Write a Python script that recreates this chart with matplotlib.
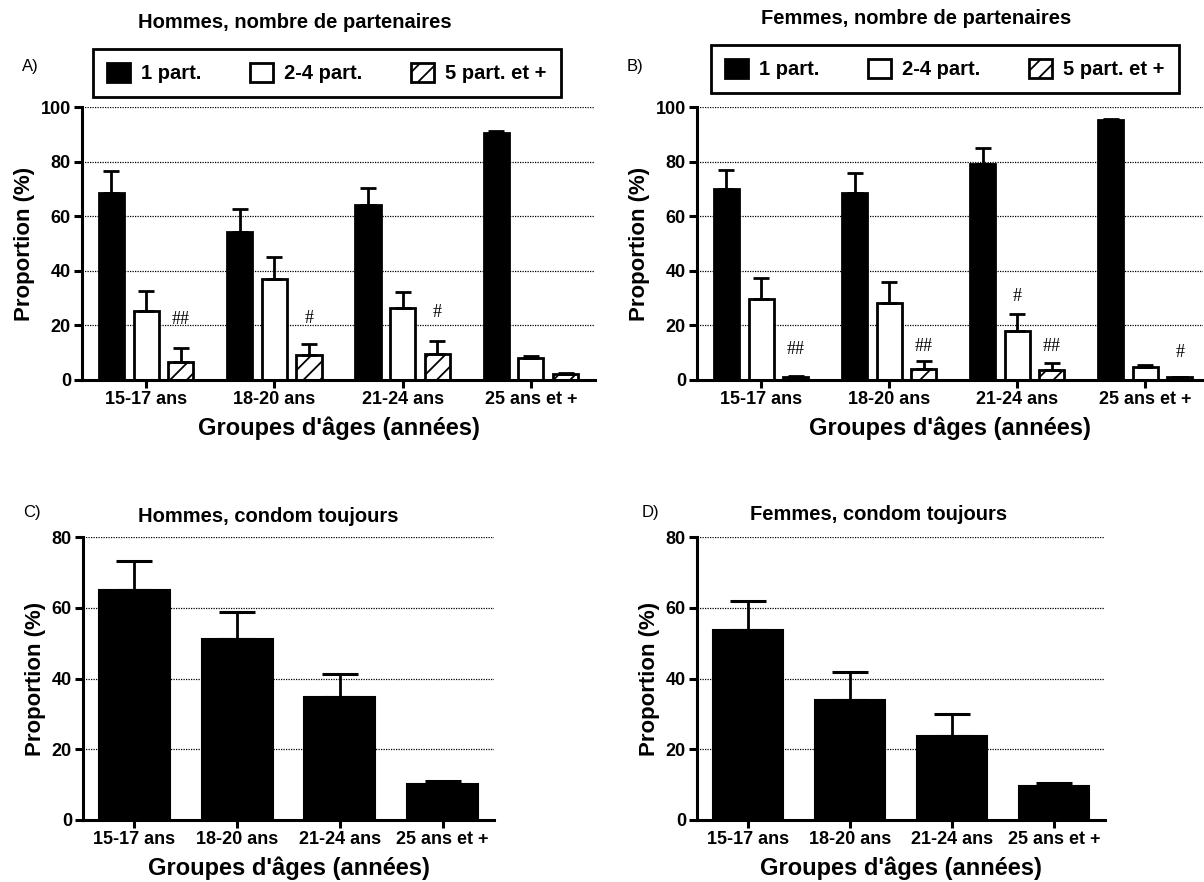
import matplotlib
matplotlib.use('Agg')
import matplotlib.pyplot as plt
import numpy as np

plt.rcParams['font.family'] = ['Liberation Sans', 'DejaVu Sans']
plt.rcParams['font.weight'] = 'bold'
plt.rcParams['hatch.linewidth'] = 1.3

# ---------------- data ----------------
groups = ['15-17 ans', '18-20 ans', '21-24 ans', '25 ans et +']
series = ['1 part.', '2-4 part.', '5 part. et +']

# Panel A : Hommes, nombre de partenaires
men_1 = [68.6, 54.3, 64.1, 90.3]
men_1_err = [7.8, 8.2, 6.3, 0.9]
men_2_4 = [25.3, 36.9, 26.5, 8.2]
men_2_4_err = [7.4, 8.0, 5.8, 0.6]
men_5 = [6.5, 9.2, 9.6, 2.1]
men_5_err = [5.3, 4.0, 4.8, 0.6]
# (series index, group index, text, y)
men_marks = [(2, 0, '##', 22.0), (2, 1, '#', 22.7), (2, 2, '#', 24.6)]

# Panel B : Femmes, nombre de partenaires
wom_1 = [70.0, 68.6, 79.1, 95.2]
wom_1_err = [7.0, 7.1, 6.0, 0.3]
wom_2_4 = [29.8, 28.3, 17.9, 4.7]
wom_2_4_err = [7.4, 7.7, 6.2, 0.7]
wom_5 = [1.1, 4.0, 3.8, 1.0]
wom_5_err = [0.4, 3.0, 2.6, 0.2]
wom_marks = [(2, 0, '##', 11.3), (2, 1, '##', 12.2), (1, 2, '#', 30.5),
             (2, 2, '##', 12.2), (2, 3, '#', 10.2)]

# Panels C, D : condom toujours
men_condom = [64.9, 51.2, 34.7, 10.2]
men_condom_err = [8.3, 7.6, 6.7, 0.8]
wom_condom = [53.6, 33.8, 23.8, 9.7]
wom_condom_err = [8.3, 8.0, 6.1, 0.8]

# ---------------- figure ----------------
W, H = 1204, 882
fig = plt.figure(figsize=(W / 100, H / 100), dpi=100)


def rect(l, r, b, t):
    return [l / W, 1 - b / H, (r - l) / W, (b - t) / H]


def style(ax, ymax, ystep, xmax=3.5):
    ax.set_xlim(-0.5, xmax)
    ax.set_ylim(0, ymax)
    ax.set_yticks(np.arange(0, ymax + 1, ystep))
    ax.set_xticks(range(len(groups)))
    ax.set_xticklabels(groups)
    ax.set_axisbelow(True)
    ax.yaxis.grid(True, linestyle=(0, (1, 1)), color='black', linewidth=0.9)
    for s in ['top', 'right']:
        ax.spines[s].set_visible(False)
    for s in ['left', 'bottom']:
        ax.spines[s].set_linewidth(2.2)
    ax.tick_params(axis='both', direction='out', length=6, width=2.2,
                   labelsize=13, pad=2)
    ax.set_ylabel('Proportion (%)', fontsize=16, fontweight='bold', labelpad=4)
    ax.set_xlabel("Groupes d'âges (années)", fontsize=17, fontweight='bold',
                  labelpad=6)


styles = [dict(facecolor='black', edgecolor='black', hatch=None),
          dict(facecolor='white', edgecolor='black', hatch=None),
          dict(facecolor='white', edgecolor='black', hatch='//')]
offsets = [-0.27, 0.0, 0.27]
bw = 0.195


def grouped(ax, vals, errs, marks):
    x = np.arange(len(groups))
    conts = []
    for i, (v, e) in enumerate(zip(vals, errs)):
        st = styles[i]
        c = ax.bar(x + offsets[i], v, bw, color=st['facecolor'],
                   edgecolor=st['edgecolor'], hatch=st['hatch'],
                   linewidth=2, label=series[i], zorder=2)
        conts.append(c)
        ax.errorbar(x + offsets[i], v, yerr=[np.zeros(len(v)), e], fmt='none',
                    ecolor='black', elinewidth=2, capsize=6, capthick=2,
                    zorder=3)
    for si, gi, txt, y in marks:
        ax.text(gi + offsets[si], y, txt, ha='center', va='center',
                fontsize=13, fontweight='normal',
                family=['Liberation Serif', 'DejaVu Serif'])
    return conts


def single(ax, v, e):
    x = np.arange(len(groups))
    ax.bar(x, v, 0.69, color='black', edgecolor='black', linewidth=1.5,
           zorder=2)
    ax.errorbar(x, v, yerr=[np.zeros(len(v)), e], fmt='none', ecolor='black',
                elinewidth=2, capsize=13, capthick=2.2, zorder=3)


# Panel A
axA = fig.add_axes(rect(82, 595, 380, 107))
conts = grouped(axA, [men_1, men_2_4, men_5],
                [men_1_err, men_2_4_err, men_5_err], men_marks)
style(axA, 100, 20)

# Panel B
axB = fig.add_axes(rect(697, 1203, 380, 107))
grouped(axB, [wom_1, wom_2_4, wom_5],
        [wom_1_err, wom_2_4_err, wom_5_err], wom_marks)
style(axB, 100, 20, xmax=3.45)

# Panel C
axC = fig.add_axes(rect(83, 494, 820, 537))
single(axC, men_condom, men_condom_err)
style(axC, 80, 20)

# Panel D
axD = fig.add_axes(rect(697, 1105, 820, 537))
single(axD, wom_condom, wom_condom_err)
style(axD, 80, 20)

# Legends
for cx, cy in [(327, 73), (945, 69)]:
    leg = fig.legend(conts, series, loc='center',
                     bbox_to_anchor=(cx / W, 1 - cy / H), ncol=3,
                     prop=dict(size=14.5, weight='bold'), frameon=True,
                     fancybox=False, edgecolor='black', framealpha=1,
                     handlelength=1.15, handleheight=1.05, handletextpad=0.55,
                     columnspacing=2.4, borderpad=0.7)
    leg.get_frame().set_linewidth(2)

# Titles
fig.text(295 / W, 1 - 22 / H, 'Hommes, nombre de partenaires', ha='center',
         va='center', fontsize=14.5, fontweight='bold')
fig.text(916 / W, 1 - 19 / H, 'Femmes, nombre de partenaires', ha='center',
         va='center', fontsize=14.5, fontweight='bold')
fig.text(268 / W, 1 - 517 / H, 'Hommes, condom toujours', ha='center',
         va='center', fontsize=14.5, fontweight='bold')
fig.text(879 / W, 1 - 515 / H, 'Femmes, condom toujours', ha='center',
         va='center', fontsize=14.5, fontweight='bold')

# Panel letters
for lbl, x, y in [('A)', 30, 67), ('B)', 635, 67), ('C)', 32, 512),
                  ('D)', 650, 512)]:
    fig.text(x / W, 1 - y / H, lbl, ha='center', va='center', fontsize=12,
             fontweight='normal')

fig.savefig('out.png', dpi=100)
